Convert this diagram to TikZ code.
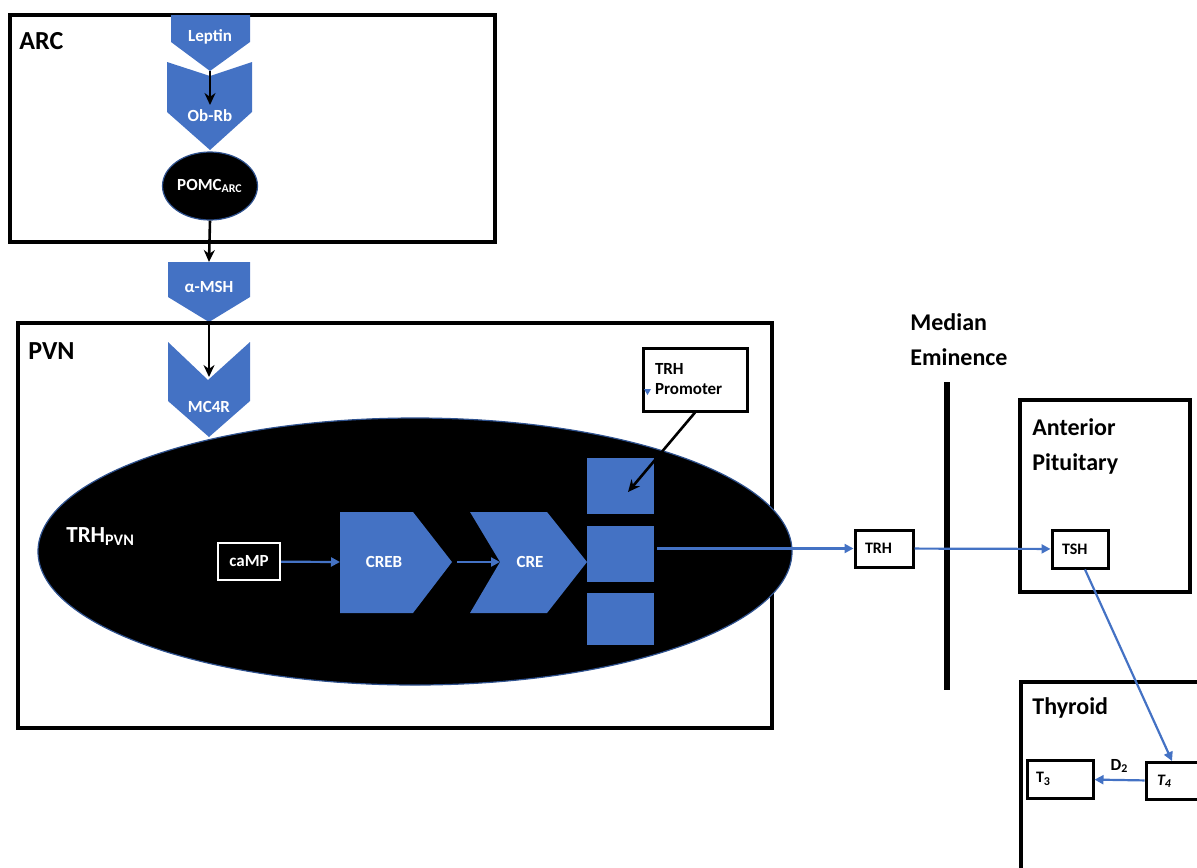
\documentclass[tikz,border=0pt]{standalone}
\usepackage{fontspec}
\setmainfont{Carlito}
\usetikzlibrary{arrows.meta,shapes.geometric}

\definecolor{offblue}{RGB}{68,114,196}
\definecolor{rimblue}{RGB}{47,82,143}

\begin{document}
\begin{tikzpicture}[x=0.5pt,y=-0.5pt,
  region/.style={draw, line width=1.8pt},
  chev/.style={fill=offblue},
  wlab/.style={text=white, font=\bfseries\fontsize{8.5}{10}\selectfont, inner sep=0pt},
  heading/.style={anchor=north west, inner sep=0pt, align=left, font=\bfseries\fontsize{12}{17.5}\selectfont},
  bighead/.style={heading, font=\bfseries\fontsize{13}{16}\selectfont},
  tag/.style={draw, line width=1.5pt, fill=white, inner ysep=0pt, inner xsep=5pt, align=left, font=\bfseries\fontsize{8}{10}\selectfont},
  sq/.style={fill=offblue, minimum width=33.5pt, inner sep=0pt},
  blk/.style={line width=1.3pt, -{Stealth[length=6pt,width=5.5pt]}},
  blu/.style={draw=offblue, line width=1.1pt, -{Triangle[length=4.5pt,width=4.5pt]}}
]
  \clip (0,0) rectangle (1197,867);

  % ARC
  \draw[region] (10,15) rectangle (495,242);
  \node[bighead] (arc) at (19,32) {ARC};
  \fill[chev] (171,15) -- (250,15) -- (250,42) -- (210,71) -- (171,42) -- cycle;
  \fill[chev] (167,62) -- (210,76) -- (252,62) -- (252,112) -- (210,150) -- (167,112) -- cycle;
  \node[wlab] (lep) at (210,37) {Leptin};
  \node[wlab] (obrb) at (210,116) {Ob-Rb};
  \coordinate (leptip) at (210,71);
  \coordinate (obrbin) at (210,105);
  \draw[blk] (leptip) -- (obrbin);
  \node[ellipse, fill=black, draw=rimblue, line width=0.6pt, minimum width=47.5pt, minimum height=34pt,
        inner sep=0pt, text=white, font=\bfseries\fontsize{8.5}{10}\selectfont] (pomc) at (210,186) {POMC\textsubscript{ARC}};

  % alpha-MSH
  \fill[chev] (168,262) -- (250,262) -- (250,297) -- (209,322) -- (168,297) -- cycle;
  \node[wlab] (msh) at (209,287) {α-MSH};
  \coordinate (mshtop) at (209,262);
  \coordinate (mshtip) at (209,322);
  \draw[blk] (pomc.south) -- (mshtop);

  % PVN
  \draw[region] (18,323) rectangle (772,728);
  \node[bighead] (pvn) at (28,342) {PVN};
  \fill[chev] (168,342) -- (208,380) -- (250,342) -- (250,401) -- (209,437) -- (168,401) -- cycle;
  \node[wlab] (mc4r) at (209,407) {MC4R};
  \coordinate (mc4rin) at (209,377);
  \draw[blk] (mshtip) -- (mc4rin);

  \node[ellipse, fill=black, draw=rimblue, line width=0.6pt, minimum width=377pt, minimum height=133.5pt] (trh) at (415,551.5) {};
  \node[anchor=north west, inner sep=0pt, text=white, font=\bfseries\fontsize{11.5}{14}\selectfont] (trhlab) at (66,527) {TRH\textsubscript{PVN}};

  \node[draw=white, line width=1.2pt, fill=black, text=white, minimum width=31pt, minimum height=18.5pt,
        inner sep=0pt, font=\bfseries\fontsize{8.5}{10}\selectfont] (camp) at (249,561.5) {caMP};
  \fill[chev] (340,512) -- (413,512) -- (452,562) -- (413,613) -- (340,613) -- cycle;
  \node[wlab] (creb) at (384,562) {CREB};
  \fill[chev] (470,512) -- (547,512) -- (587,562) -- (547,613) -- (470,613) -- (500,562) -- cycle;
  \node[wlab] (cre) at (530,562) {CRE};
  \coordinate (crebin) at (340,562);
  \coordinate (crebtip) at (452,562);
  \coordinate (crenotch) at (500,562);
  \draw[blu] (camp) -- (crebin);
  \draw[blu, shorten <=2.5pt] (crebtip) -- (crenotch);

  \node[sq, minimum height=28pt] (sq1) at (620.5,486) {};
  \node[sq, minimum height=28pt] (sq2) at (620.5,554) {};
  \node[sq, minimum height=26pt] (sq3) at (620.5,619) {};

  \node[tag, minimum width=52pt, minimum height=31.5pt, inner xsep=6pt, text width=40pt,
        font=\bfseries\fontsize{8.5}{10}\selectfont] (prom) at (695,379.5) {TRH\\Promoter};
  \fill[offblue] (644,389) -- (651,389) -- (647.5,395) -- cycle;
  \coordinate (promtip) at (628,492);
  \draw[blk] (prom.south) -- (promtip);

  % median eminence
  \draw[line width=2.6pt] (947,382) -- (947,690);
  \node[heading] (me) at (910,313) {Median\\Eminence};
  \node[tag, minimum width=29pt, minimum height=18.5pt, text width=19pt] (trhbox) at (884,548.5) {TRH};
  \draw[blu, shorten <=1.5pt] (trhbox.west -| sq2.east) -- (trhbox.west);

  % anterior pituitary
  \draw[region] (1020,400) rectangle (1190,592);
  \node[heading] (ap) at (1032,418) {Anterior\\Pituitary};
  \node[tag, minimum width=28pt, minimum height=19pt, text width=18pt] (tsh) at (1080,549) {TSH};
  \draw[blu] (trhbox) -- (tsh);

  % thyroid
  \draw[region] (1021,682) rectangle (1240,920);
  \node[heading] (thy) at (1032,697) {Thyroid};
  \node[tag, minimum width=33pt, minimum height=19pt, inner xsep=4.5pt, text width=24pt] (t3) at (1060,779) {T\textsubscript{3}};
  \node[tag, minimum width=33pt, minimum height=18.5pt, inner xsep=5.5pt, text width=22pt] (t4) at (1179,781) {\textit{T\textsubscript{4}}};
  \draw[blu] ([xshift=2.5pt]tsh.south) -- ([xshift=-3.5pt]t4.north);
  \draw[blu] (t4) -- (t3) node[midway, above=3pt, inner sep=0pt, font=\bfseries\fontsize{8.5}{10}\selectfont] (d2) {D\textsubscript{2}};
\end{tikzpicture}
\end{document}
